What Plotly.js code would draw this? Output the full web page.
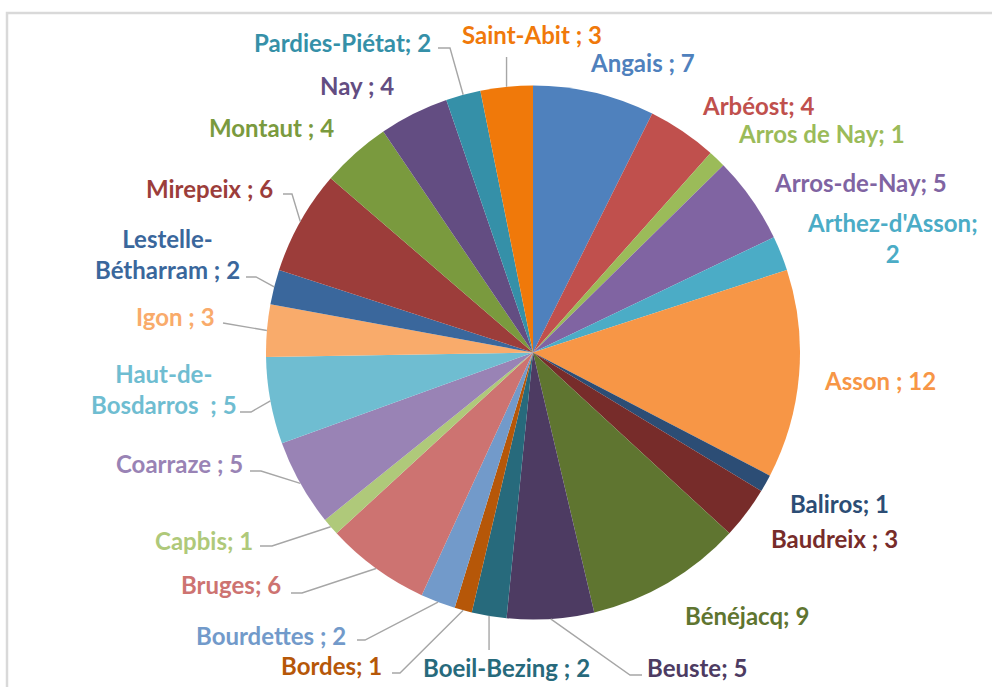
<!DOCTYPE html>
<html><head><meta charset="utf-8">
<script src="https://cdn.plot.ly/plotly-3.0.1.min.js"></script>
<style>html,body{margin:0;padding:0;background:#fff;} #chart{width:992px;height:687px;}</style>
</head><body><div id="chart"></div>
<script>
// ---------- data ----------
const categories = ["Angais","Arbéost","Arros de Nay","Arros-de-Nay","Arthez-d'Asson","Asson","Baliros","Baudreix","Bénéjacq","Beuste","Boeil-Bezing","Bordes","Bourdettes","Bruges","Capbis","Coarraze","Haut-de-Bosdarros","Igon","Lestelle-Bétharram","Mirepeix","Montaut","Nay","Pardies-Piétat","Saint-Abit"];
const values = [7,4,1,5,2,12,1,3,9,5,2,1,2,6,1,5,5,3,2,6,4,4,2,3];
const separators = [" ; ","; ","; ","; ","; "," ; ","; "," ; ","; ","; "," ; ","; "," ; ","; ","; "," ; ","  ; "," ; "," ; "," ; "," ; "," ; ","; "," ; "];

// ---------- styles ----------
const colors = ["#4F81BD","#C0504D","#9BBB59","#8064A2","#4BACC6","#F79646",
                "#2C4D75","#772C2A","#5F7530","#4D3B62","#276A7C","#B65708",
                "#729ACA","#CD7371","#AFC97A","#9983B5","#6FBDD1","#F9AB6B",
                "#3A679C","#9C3D3A","#7A9A3E","#634D82","#3590A8","#F0790A"];

const W = 992, H = 687;
const CX = 533, CY = 352.5, R = 267;   // pie placement (px)

// label placement (px) and leader-line bends (px), one entry per slice
const labelLayout = [
  {x:588, y:63,  a:'left'},
  {x:700, y:105, a:'left'},
  {x:736, y:133, a:'left'},
  {x:772, y:182, a:'left'},
  {x:892, y:238, a:'center', wrap:'sep'},
  {x:822, y:380, a:'left'},
  {x:788, y:503, a:'left'},
  {x:769, y:538, a:'left'},
  {x:683, y:615, a:'left'},
  {x:645, y:667, a:'left',   lead:[[630,675],[642,675]]},
  {x:506, y:667, a:'center', lead:[[488,650]]},
  {x:384, y:665, a:'right',  lead:[[400,673],[392,673]]},
  {x:348, y:635, a:'right',  lead:[[365,640],[357,640]]},
  {x:283, y:584, a:'right',  lead:[[302,593],[291,593]]},
  {x:255, y:540, a:'right',  lead:[[272,546],[260,546]]},
  {x:245, y:463, a:'right',  lead:[[261,471],[250,471]]},
  {x:164, y:389, a:'center', wrap:8, lead:[[251,412],[240,412]]},
  {x:217, y:317, a:'right',  lead:[[223,323]]},
  {x:167, y:254, a:'center', wrap:9, lead:[[256,277],[246,277]]},
  {x:275, y:189, a:'right',  lead:[[292,194],[283,194]]},
  {x:336, y:127, a:'right'},
  {x:396, y:85,  a:'right'},
  {x:433, y:42,  a:'right',  lead:[[450,48],[438,48]]},
  {x:532, y:35,  a:'center', lead:[[506,57]]}
];

const px = x => x / W;
const py = y => 1 - y / H;

const total = values.reduce((s, v) => s + v, 0);
let cum = 0;
const annotations = [];
const shapes = [{
  type:'rect', xref:'paper', yref:'paper', layer:'below',
  x0:px(7), x1:1.05, y0:-0.05, y1:py(13),
  line:{color:'#D9D9D9', width:2.5}, fillcolor:'rgba(0,0,0,0)'
}];

categories.forEach((name, i) => {
  const v = values[i];
  const theta = 2 * Math.PI * (cum + v / 2) / total;
  cum += v;
  const ex = CX + R * Math.sin(theta);
  const ey = CY - R * Math.cos(theta);
  const L = labelLayout[i];
  let text;
  if (L.wrap === 'sep') {
    text = name + separators[i].trimEnd() + '<br>' + v;
  } else if (typeof L.wrap === 'number') {
    text = name.slice(0, L.wrap) + '<br>' + name.slice(L.wrap) + separators[i] + v;
  } else {
    text = name + separators[i] + v;
  }
  annotations.push({
    xref:'paper', yref:'paper', x:px(L.x), y:py(L.y),
    xanchor:L.a, yanchor:'middle', align:'center', showarrow:false,
    text:text,
    font:{family:'Lato, "Open Sans", sans-serif', size:24, weight:'bold', color:colors[i]}
  });
  if (L.lead) {
    let d = 'M' + px(ex) + ',' + py(ey);
    const pts = L.lead.slice();
    if (pts.length === 1 && (i === 23 || i === 10)) pts[0] = [ex, pts[0][1]];
    pts.forEach(p => { d += ' L' + px(p[0]) + ',' + py(p[1]); });
    shapes.push({type:'path', xref:'paper', yref:'paper', path:d,
                 line:{color:'#A6A6A6', width:1.4}, layer:'above'});
  }
});

const trace = {
  type:'pie', labels:categories, values:values, sort:false,
  direction:'clockwise', rotation:0,
  marker:{colors:colors, line:{width:0}},
  textinfo:'none', textposition:'none', hoverinfo:'label+value',
  domain:{x:[px(CX - R), px(CX + R)], y:[1 - (CY + R) / H, 1 - (CY - R) / H]},
  showlegend:false
};

Plotly.newPlot('chart', [trace], {
  width:W, height:H, margin:{l:0, r:0, t:0, b:0},
  paper_bgcolor:'#ffffff', plot_bgcolor:'#ffffff',
  showlegend:false, annotations:annotations, shapes:shapes
}, {displayModeBar:false, staticPlot:true});
</script>
</body></html>
